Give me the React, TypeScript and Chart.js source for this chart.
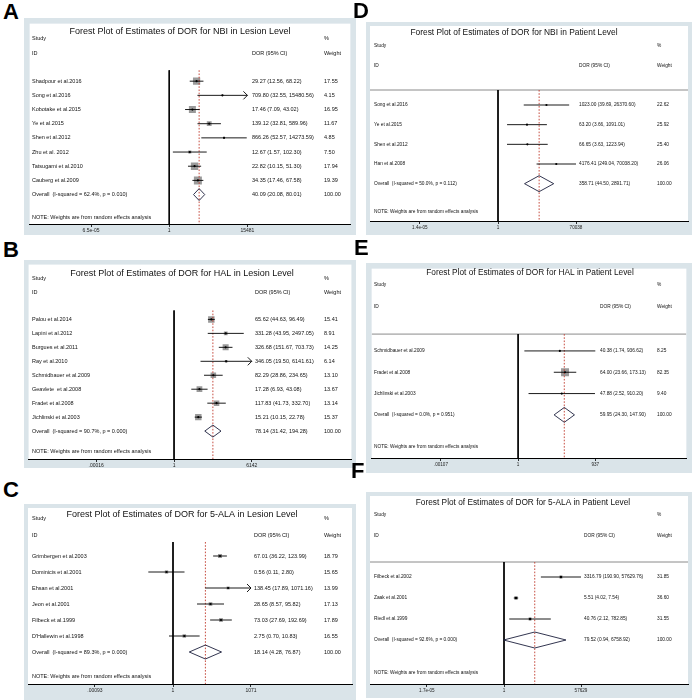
import React, { useEffect, useRef } from "react";
import { Chart, registerables } from "chart.js";

Chart.register(...registerables);

const FONT = "'Liberation Sans', Arial, Helvetica, sans-serif";

// ---------- A: NBI, lesion level ----------
const nbiLesionTitle = "Forest Plot of Estimates of DOR for NBI in Lesion Level";
const nbiLesionStudies = ["Shadpour et al.2016", "Song et al.2016", "Kobotake et al.2015", "Ye et al.2015", "Shen et al.2012", "Zhu et al. 2012", "Tatsugami et al.2010", "Cauberg et al.2009"];
const nbiLesionDor = [29.27, 709.8, 17.46, 139.12, 866.26, 12.67, 22.82, 34.35];
const nbiLesionLow = [12.56, 32.55, 7.09, 32.81, 52.57, 1.57, 10.15, 17.46];
const nbiLesionHigh = [68.22, 15480.56, 43.02, 589.96, 14273.59, 102.3, 51.3, 67.58];
const nbiLesionWeight = [17.55, 4.15, 16.95, 11.67, 4.85, 7.5, 17.94, 19.39];
const nbiLesionArrow = [false, true, false, false, false, false, false, false];
const nbiLesionOverall = [40.09, 20.08, 80.01];
const nbiLesionOverallLabel = "Overall  (I-squared = 62.4%, p = 0.010)";
const nbiLesionTicks = [6.5e-5, 1, 15481];
const nbiLesionTickLabels = ["6.5e-05", "1", "15481"];

// ---------- B: HAL, lesion level ----------
const halLesionTitle = "Forest Plot of Estimates of DOR for HAL in Lesion Level";
const halLesionStudies = ["Palou et al.2014", "Lapini et al.2012", "Burgues et al.2011", "Ray et al.2010", "Schmidbauer et al.2009", "Geavlete  et al.2008", "Fradet et al.2008", "Jichlinski et al.2003"];
const halLesionDor = [65.62, 331.28, 326.68, 346.05, 82.29, 17.28, 117.83, 15.21];
const halLesionLow = [44.63, 43.95, 151.67, 19.5, 28.86, 6.93, 41.73, 10.15];
const halLesionHigh = [96.49, 2497.05, 703.73, 6141.61, 234.65, 43.08, 332.7, 22.78];
const halLesionWeight = [15.41, 8.91, 14.25, 6.14, 13.1, 13.67, 13.14, 15.37];
const halLesionArrow = [false, false, false, true, false, false, false, false];
const halLesionOverall = [78.14, 31.42, 194.28];
const halLesionOverallLabel = "Overall  (I-squared = 90.7%, p = 0.000)";
const halLesionTicks = [0.00016, 1, 6142];
const halLesionTickLabels = [".00016", "1", "6142"];

// ---------- C: 5-ALA, lesion level ----------
const alaLesionTitle = "Forest Plot of Estimates of DOR for 5-ALA in Lesion Level";
const alaLesionStudies = ["Grimbergen et al.2003", "Dominicis et al.2001", "Ehsan et al.2001", "Jeon et al.2001", "Filbeck et al.1999", "D'Hallewin et al.1998"];
const alaLesionDor = [67.01, 0.56, 138.45, 28.65, 73.03, 2.75];
const alaLesionLow = [36.22, 0.11, 17.89, 8.57, 27.69, 0.7];
const alaLesionHigh = [123.99, 2.8, 1071.16, 95.82, 192.69, 10.83];
const alaLesionWeight = [18.79, 15.65, 13.99, 17.13, 17.89, 16.55];
const alaLesionArrow = [false, false, true, false, false, false];
const alaLesionOverall = [18.14, 4.28, 76.87];
const alaLesionOverallLabel = "Overall  (I-squared = 89.3%, p = 0.000)";
const alaLesionTicks = [0.00093, 1, 1071];
const alaLesionTickLabels = [".00093", "1", "1071"];

// ---------- D: NBI, patient level ----------
const nbiPatientTitle = "Forest Plot of Estimates of DOR for NBI in Patient Level";
const nbiPatientStudies = ["Song et al.2016", "Ye et al.2015", "Shen et al.2012", "Han et al.2008"];
const nbiPatientDor = [1023.0, 63.2, 66.65, 4176.41];
const nbiPatientLow = [39.69, 3.66, 3.63, 249.04];
const nbiPatientHigh = [26370.6, 1091.01, 1223.94, 70038.2];
const nbiPatientWeight = [22.62, 25.92, 25.4, 26.06];
const nbiPatientArrow = [false, false, false, false];
const nbiPatientOverall = [358.71, 44.5, 2891.71];
const nbiPatientOverallLabel = "Overall  (I-squared = 50.0%, p = 0.112)";
const nbiPatientTicks = [1.4e-5, 1, 70038];
const nbiPatientTickLabels = ["1.4e-05", "1", "70038"];

// ---------- E: HAL, patient level ----------
const halPatientTitle = "Forest Plot of Estimates of DOR for HAL in Patient Level";
const halPatientStudies = ["Schmidbauer et al.2009", "Fradet et al.2008", "Jichlinski et al.2003"];
const halPatientDor = [40.38, 64.0, 47.88];
const halPatientLow = [1.74, 23.66, 2.52];
const halPatientHigh = [936.62, 173.13, 910.2];
const halPatientWeight = [8.25, 82.35, 9.4];
const halPatientArrow = [false, false, false];
const halPatientOverall = [59.95, 24.3, 147.9];
const halPatientOverallLabel = "Overall  (I-squared = 0.0%, p = 0.951)";
const halPatientTicks = [0.00107, 1, 937];
const halPatientTickLabels = [".00107", "1", "937"];

// ---------- F: 5-ALA, patient level ----------
const alaPatientTitle = "Forest Plot of Estimates of DOR for 5-ALA in Patient Level";
const alaPatientStudies = ["Filbeck et al.2002", "Zaak et al.2001", "Riedl et al.1999"];
const alaPatientDor = [3316.79, 5.51, 40.76];
const alaPatientLow = [190.9, 4.02, 2.12];
const alaPatientHigh = [57629.76, 7.54, 782.85];
const alaPatientWeight = [31.85, 36.6, 31.55];
const alaPatientArrow = [false, false, false];
const alaPatientOverall = [79.52, 0.94, 6758.92];
const alaPatientOverallLabel = "Overall  (I-squared = 92.6%, p = 0.000)";
const alaPatientTicks = [1.7e-5, 1, 57629];
const alaPatientTickLabels = ["1.7e-05", "1", "57629"];

const NOTE = "NOTE: Weights are from random effects analysis";

type PanelData = {
  title: string; studies: string[]; dor: number[]; low: number[]; high: number[];
  weight: number[]; arrow: boolean[]; overall: number[]; overallLabel: string;
  ticks: number[]; tickLabels: string[];
};

type PanelLayout = {
  letter: string; letterX: number; letterY: number;
  left: number; top: number; width: number; height: number;
  titleX: number; titleY: number; titleSize: number; textSize: number; tickSize: number;
  studyY: number; idY: number; sepY: number; sepLine: boolean;
  rowY0: number; rowStep: number; noteY: number; axisY: number;
  oneX: number; tickX: number; dorX: number; weightX: number;
  boxMax: number; diamondH: number; dotR: number;
};

const panels: { data: PanelData; layout: PanelLayout }[] = [
  {
    data: { title: nbiLesionTitle, studies: nbiLesionStudies, dor: nbiLesionDor, low: nbiLesionLow, high: nbiLesionHigh, weight: nbiLesionWeight, arrow: nbiLesionArrow, overall: nbiLesionOverall, overallLabel: nbiLesionOverallLabel, ticks: nbiLesionTicks, tickLabels: nbiLesionTickLabels },
    layout: { letter: "A", letterX: 3, letterY: 1, left: 24, top: 18, width: 332, height: 217, titleX: 156, titleY: 14, titleSize: 9, textSize: 5.5, tickSize: 5, studyY: 20, idY: 35, sepY: 51, sepLine: false, rowY0: 62, rowStep: 14.29, noteY: 199, axisY: 206, oneX: 145, tickX: 224, dorX: 228, weightX: 300, boxMax: 8, diamondH: 6, dotR: 1.1 },
  },
  {
    data: { title: halLesionTitle, studies: halLesionStudies, dor: halLesionDor, low: halLesionLow, high: halLesionHigh, weight: halLesionWeight, arrow: halLesionArrow, overall: halLesionOverall, overallLabel: halLesionOverallLabel, ticks: halLesionTicks, tickLabels: halLesionTickLabels },
    layout: { letter: "B", letterX: 3, letterY: 239, left: 24, top: 260, width: 332, height: 208, titleX: 158, titleY: 14, titleSize: 9, textSize: 5.5, tickSize: 5, studyY: 18, idY: 32, sepY: 50, sepLine: false, rowY0: 59, rowStep: 14, noteY: 191, axisY: 199, oneX: 150, tickX: 228, dorX: 231, weightX: 300, boxMax: 6.5, diamondH: 6, dotR: 1.1 },
  },
  {
    data: { title: alaLesionTitle, studies: alaLesionStudies, dor: alaLesionDor, low: alaLesionLow, high: alaLesionHigh, weight: alaLesionWeight, arrow: alaLesionArrow, overall: alaLesionOverall, overallLabel: alaLesionOverallLabel, ticks: alaLesionTicks, tickLabels: alaLesionTickLabels },
    layout: { letter: "C", letterX: 3, letterY: 479, left: 24, top: 504, width: 332, height: 196, titleX: 158, titleY: 11, titleSize: 9, textSize: 5.5, tickSize: 5, studyY: 14, idY: 31, sepY: 38, sepLine: false, rowY0: 52, rowStep: 16, noteY: 172, axisY: 180, oneX: 149, tickX: 227, dorX: 230, weightX: 300, boxMax: 4, diamondH: 7, dotR: 1.1 },
  },
  {
    data: { title: nbiPatientTitle, studies: nbiPatientStudies, dor: nbiPatientDor, low: nbiPatientLow, high: nbiPatientHigh, weight: nbiPatientWeight, arrow: nbiPatientArrow, overall: nbiPatientOverall, overallLabel: nbiPatientOverallLabel, ticks: nbiPatientTicks, tickLabels: nbiPatientTickLabels },
    layout: { letter: "D", letterX: 353, letterY: 0, left: 366, top: 22, width: 326, height: 213, titleX: 148, titleY: 11, titleSize: 8.4, textSize: 4.8, tickSize: 4.6, studyY: 24, idY: 44, sepY: 68, sepLine: true, rowY0: 83, rowStep: 19.67, noteY: 190, axisY: 199, oneX: 132, tickX: 210, dorX: 213, weightX: 291, boxMax: 0, diamondH: 8, dotR: 1.1 },
  },
  {
    data: { title: halPatientTitle, studies: halPatientStudies, dor: halPatientDor, low: halPatientLow, high: halPatientHigh, weight: halPatientWeight, arrow: halPatientArrow, overall: halPatientOverall, overallLabel: halPatientOverallLabel, ticks: halPatientTicks, tickLabels: halPatientTickLabels },
    layout: { letter: "E", letterX: 354, letterY: 237, left: 366, top: 263, width: 326, height: 210, titleX: 164, titleY: 10, titleSize: 8.3, textSize: 4.8, tickSize: 4.6, studyY: 22, idY: 44, sepY: 70, sepLine: true, rowY0: 87, rowStep: 21.5, noteY: 184, axisY: 195, oneX: 152, tickX: 230, dorX: 234, weightX: 291, boxMax: 8, diamondH: 7.5, dotR: 1.1 },
  },
  {
    data: { title: alaPatientTitle, studies: alaPatientStudies, dor: alaPatientDor, low: alaPatientLow, high: alaPatientHigh, weight: alaPatientWeight, arrow: alaPatientArrow, overall: alaPatientOverall, overallLabel: alaPatientOverallLabel, ticks: alaPatientTicks, tickLabels: alaPatientTickLabels },
    layout: { letter: "F", letterX: 351, letterY: 460, left: 366, top: 492, width: 326, height: 206, titleX: 157, titleY: 11, titleSize: 8.3, textSize: 4.8, tickSize: 4.6, studyY: 23, idY: 44, sepY: 70, sepLine: true, rowY0: 85, rowStep: 21, noteY: 181, axisY: 192, oneX: 138, tickX: 215, dorX: 218, weightX: 291, boxMax: 3.5, diamondH: 8, dotR: 1.2 },
  },
];

const fmt = (v: number) => v.toFixed(2);

function buildConfig(d: PanelData, L: PanelLayout): any {
  const tickMax = d.ticks[d.ticks.length - 1];
  const dec = (L.tickX - L.oneX) / Math.log10(tickMax);
  const xMin = Math.pow(10, -(L.oneX - 4) / dec);
  const xMax = Math.pow(10, (L.width - 4 - L.oneX) / dec);
  const toRow = (py: number) => (py - L.rowY0) / L.rowStep;
  const yMin = toRow(4);
  const yMax = toRow(L.axisY);
  const sepV = toRow(L.sepY);
  const n = d.studies.length;
  const axisH = 3 + L.tickSize * 1.2 + 2;
  const padB = L.height - L.axisY - axisH;
  const maxW = Math.max(...d.weight);
  const hU = L.diamondH / L.rowStep;
  const [oe, ol, oh] = d.overall;
  const line = { type: "line", pointRadius: 0, fill: false, tension: 0 };

  const datasets: any[] = [];
  datasets.push({
    type: "scatter", data: d.dor.map((v, i) => ({ x: v, y: i })),
    pointRadius: L.dotR, pointBackgroundColor: "#000", pointBorderWidth: 0, order: 0,
  });
  d.dor.forEach((_, i) => {
    datasets.push({ ...line, data: [{ x: d.low[i], y: i }, { x: d.high[i], y: i }], borderColor: "#000", borderWidth: 0.9, order: 1 });
  });
  datasets.push({
    ...line,
    data: [{ x: ol, y: n }, { x: oe, y: n - hU }, { x: oh, y: n }, { x: oe, y: n + hU }, { x: ol, y: n }],
    borderColor: "#1c1f3c", borderWidth: 0.9, order: 1,
  });
  datasets.push({ ...line, data: [{ x: oe, y: sepV }, { x: oe, y: yMax }], borderColor: "#c0392b", borderWidth: 0.9, borderDash: [1.6, 1.6], order: 2 });
  if (L.boxMax > 0) {
    datasets.push({
      type: "scatter", data: d.dor.map((v, i) => ({ x: v, y: i })), pointStyle: "rect",
      pointRadius: d.weight.map((w) => (L.boxMax * w) / maxW / Math.SQRT2),
      pointBackgroundColor: "#9a9a9a", pointBorderWidth: 0, order: 3,
    });
  }
  datasets.push({ ...line, data: [{ x: 1, y: sepV }, { x: 1, y: yMax }], borderColor: "#000", borderWidth: 1, order: 4 });
  if (L.sepLine) {
    datasets.push({ ...line, data: [{ x: xMin, y: sepV }, { x: xMax, y: sepV }], borderColor: "#8a8a8a", borderWidth: 1, order: 5 });
  }

  const textPlugin = {
    id: "forestText",
    beforeDraw(chart: any) {
      const { ctx, chartArea: a } = chart;
      ctx.save();
      ctx.fillStyle = "#ffffff";
      ctx.fillRect(a.left, a.top, a.right - a.left, a.bottom - a.top);
      ctx.restore();
    },
    afterDatasetsDraw(chart: any) {
      const ctx = chart.ctx;
      const xs = chart.scales.x;
      const ys = chart.scales.y;
      ctx.save();
      ctx.fillStyle = "#111";
      ctx.textBaseline = "middle";
      ctx.font = `${L.titleSize}px ${FONT}`;
      ctx.textAlign = "center";
      ctx.fillText(d.title, L.titleX, L.titleY);
      ctx.textAlign = "left";
      ctx.font = `${L.textSize}px ${FONT}`;
      const tx = 8;
      ctx.fillText("Study", tx, L.studyY);
      ctx.fillText("ID", tx, L.idY);
      ctx.fillText("%", L.weightX, L.studyY);
      ctx.fillText("DOR (95% CI)", L.dorX, L.idY);
      ctx.fillText("Weight", L.weightX, L.idY);
      ctx.strokeStyle = "#000";
      ctx.lineWidth = 0.9;
      d.studies.forEach((s, i) => {
        const y = ys.getPixelForValue(i);
        ctx.fillText(s, tx, y);
        ctx.fillText(`${fmt(d.dor[i])} (${fmt(d.low[i])}, ${fmt(d.high[i])})`, L.dorX, y);
        ctx.fillText(fmt(d.weight[i]), L.weightX, y);
        if (d.arrow[i]) {
          const px = xs.getPixelForValue(d.high[i]);
          ctx.beginPath();
          ctx.moveTo(px - 4, y - 4);
          ctx.lineTo(px, y);
          ctx.lineTo(px - 4, y + 4);
          ctx.stroke();
        }
      });
      const oy = ys.getPixelForValue(n);
      ctx.fillText(d.overallLabel, tx, oy);
      ctx.fillText(`${fmt(oe)} (${fmt(ol)}, ${fmt(oh)})`, L.dorX, oy);
      ctx.fillText("100.00", L.weightX, oy);
      ctx.fillText(NOTE, tx, L.noteY);
      ctx.restore();
    },
  };

  return {
    type: "scatter",
    data: { datasets },
    options: {
      responsive: false,
      animation: false,
      events: [],
      layout: { padding: { left: 4, right: 4, top: 4, bottom: padB } },
      plugins: { legend: { display: false }, tooltip: { enabled: false } },
      scales: {
        x: {
          type: "logarithmic",
          min: xMin,
          max: xMax,
          bounds: "data",
          afterBuildTicks: (s: any) => {
            s.ticks = d.ticks.map((v) => ({ value: v }));
          },
          ticks: {
            autoSkip: false, maxRotation: 0, minRotation: 0, padding: 1, color: "#222",
            font: { family: FONT, size: L.tickSize },
            callback: (_v: any, i: number) => d.tickLabels[i],
          },
          grid: { display: true, drawOnChartArea: false, drawTicks: true, tickLength: 3, tickColor: "#000", tickWidth: 0.8 },
          border: { display: true, color: "#000", width: 1 },
        },
        y: { type: "linear", display: false, min: yMin, max: yMax, reverse: true },
      },
    },
    plugins: [textPlugin],
  };
}

function ForestPanel({ data, layout }: { data: PanelData; layout: PanelLayout }) {
  const ref = useRef<HTMLCanvasElement>(null);
  useEffect(() => {
    const chart = new Chart(ref.current as HTMLCanvasElement, buildConfig(data, layout));
    return () => chart.destroy();
  }, [data, layout]);
  return (
    <>
      <div
        style={{
          position: "absolute", left: layout.letterX, top: layout.letterY,
          font: `bold 22px ${FONT}`, lineHeight: "22px", color: "#000",
        }}
      >
        {layout.letter}
      </div>
      <canvas
        ref={ref}
        width={layout.width}
        height={layout.height}
        style={{
          position: "absolute", left: layout.left, top: layout.top,
          width: layout.width, height: layout.height, background: "#dae4e9",
        }}
      />
    </>
  );
}

export default function App() {
  return (
    <div style={{ position: "absolute", left: 0, top: 0, width: 694, height: 700, background: "#fff", overflow: "hidden" }}>
      {panels.map((p) => (
        <ForestPanel key={p.layout.letter} data={p.data} layout={p.layout} />
      ))}
    </div>
  );
}
